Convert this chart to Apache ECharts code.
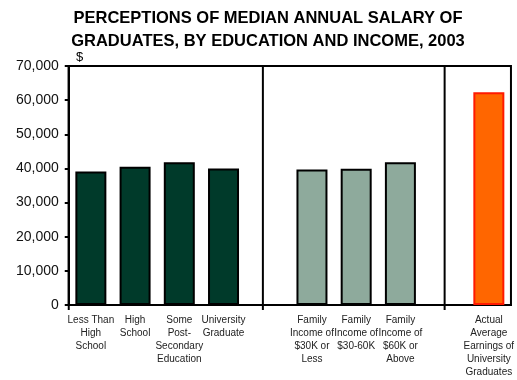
<!DOCTYPE html>
<html>
<head>
<meta charset="utf-8">
<script src="https://cdn.jsdelivr.net/npm/echarts@6/dist/echarts.min.js"></script>
<style>
  html, body { margin: 0; padding: 0; background: #fff; }
  #chart { width: 517px; height: 380px; }
</style>
</head>
<body>
<div id="chart"></div>
<script>
// Category slots (empty strings are spacer slots between groups)
const categories = [
  'Less Than\nHigh\nSchool',
  'High\nSchool',
  'Some\nPost-\nSecondary\nEducation',
  'University\nGraduate',
  '',
  'Family\nIncome of\n$30K or\nLess',
  'Family\nIncome of\n$30-60K',
  'Family\nIncome of\n$60K or\nAbove',
  '',
  'Actual\nAverage\nEarnings of\nUniversity\nGraduates'
];

// Perceived median salary by education (slots 0-3)
const byEducation = [39100, 40500, 41800, 40000];
// Perceived median salary by family income (slots 5-7)
const byIncome = [39700, 39900, 41800];
// Actual average earnings of university graduates (slot 9)
const actualEarnings = [62300];

// Group separators, in slot units along the category axis
const separators = [0, 4.39, 8.5];

const yTicks = { min: 0, max: 70000, interval: 10000 };

const eduStyle = { color: '#003a2a', borderColor: '#000', borderWidth: 2 };
const incStyle = { color: '#8eaa9c', borderColor: '#000', borderWidth: 2 };
const actStyle = { color: '#ff6600', borderColor: '#ff1a00', borderWidth: 2 };

const barData = categories.map(() => null);
byEducation.forEach((v, i) => { barData[i] = { value: v, itemStyle: eduStyle }; });
byIncome.forEach((v, i) => { barData[5 + i] = { value: v, itemStyle: incStyle }; });
actualEarnings.forEach((v, i) => { barData[9 + i] = { value: v, itemStyle: actStyle }; });

const chart = echarts.init(document.getElementById('chart'), null, { renderer: 'canvas' });

chart.setOption({
  animation: false,
  backgroundColor: '#fff',
  title: {
    text: 'PERCEPTIONS OF MEDIAN ANNUAL SALARY OF\nGRADUATES, BY EDUCATION AND INCOME, 2003',
    left: 263,
    textAlign: 'center',
    top: 2,
    textStyle: {
      fontFamily: 'Liberation Sans, Arial, sans-serif',
      fontSize: 16.5,
      fontWeight: 'bold',
      color: '#000',
      lineHeight: 23
    }
  },
  graphic: [{
    type: 'text',
    left: 76,
    top: 51,
    style: { text: '$', font: '13px "Liberation Sans", Arial, sans-serif', fill: '#000' }
  }],
  grid: {
    left: 68.75, right: 3.25, top: 66, bottom: 75,
    show: true, borderColor: '#000', borderWidth: 2, backgroundColor: 'transparent'
  },
  xAxis: [{
    type: 'category',
    data: categories,
    axisLine: { lineStyle: { color: '#000', width: 2 } },
    axisTick: { show: false },
    axisLabel: {
      interval: 0,
      margin: 9,
      fontFamily: 'Liberation Sans, Arial, sans-serif',
      fontSize: 10,
      lineHeight: 13,
      color: '#222'
    }
  }, {
    type: 'value',
    min: 0, max: categories.length,
    show: false
  }],
  yAxis: {
    type: 'value',
    min: yTicks.min, max: yTicks.max, interval: yTicks.interval,
    splitLine: { show: false },
    axisLine: { show: true, lineStyle: { color: '#000', width: 2 } },
    axisTick: { show: true, inside: false, length: 4, lineStyle: { color: '#000', width: 2 } },
    axisLabel: {
      margin: 10,
      fontFamily: 'Liberation Sans, Arial, sans-serif',
      fontSize: 14,
      color: '#111',
      formatter: v => v.toLocaleString('en-US')
    }
  },
  series: [{
    type: 'bar',
    data: barData,
    barWidth: 31,
    xAxisIndex: 0
  }, {
    type: 'custom',
    xAxisIndex: 1,
    data: separators.map(s => [s]),
    renderItem: (params, api) => {
      const top = api.coord([api.value(0), yTicks.max]);
      const bottom = api.coord([api.value(0), yTicks.min]);
      return {
        type: 'line',
        shape: { x1: top[0], y1: top[1], x2: bottom[0], y2: bottom[1] + 5 },
        style: { stroke: '#000', lineWidth: 2 }
      };
    },
    silent: true
  }]
});
</script>
</body>
</html>
